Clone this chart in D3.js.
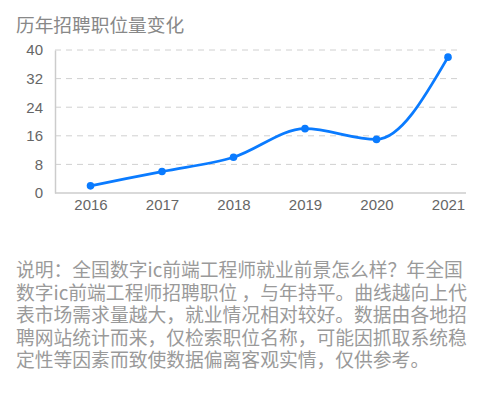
<!DOCTYPE html>
<html>
<head>
<meta charset="utf-8">
<script src="https://cdn.jsdelivr.net/npm/d3@7"></script>
<style>
  body { margin: 0; background: #fff; font-family: "Noto Sans CJK SC", "Noto Sans", sans-serif; }
  #chart { position: relative; width: 482px; height: 393px; }
  #chart svg { position: absolute; left: 0; top: 0; }
  .note { position: absolute; left: 16px; top: 258px; color: #9a9a9a; font-size: 18.8px; }
  .note div { height: 22.5px; line-height: 22.5px; white-space: nowrap; overflow: visible; }
</style>
</head>
<body>
<div id="chart"></div>
<script>
//Datos
const years = ['2016', '2017', '2018', '2019', '2020', '2021'];
const jobs = [2, 6, 10, 18, 15, 38];
const yTicks = [0, 8, 16, 24, 32, 40];
const title = '历年招聘职位量变化';
const noteLines = [
    '说明：全国数字ic前端工程师就业前景怎么样？年全国',
    '数字ic前端工程师招聘职位 ，与年持平。曲线越向上代',
    '表市场需求量越大，就业情况相对较好。数据由各地招',
    '聘网站统计而来，仅检索职位名称，可能因抓取系统稳',
    '定性等因素而致使数据偏离客观实情，仅供参考。'
];

const COLOR_LINE = '#0a7bff',
    COLOR_TEXT = '#666';

let svg = d3.select('#chart')
    .append('svg')
    .attr('width', 482)
    .attr('height', 393);

//Titulo
svg.append('text')
    .attr('x', 16)
    .attr('y', 32)
    .attr('fill', '#888')
    .style('font-size', '18.7px')
    .text(title);

let plotLeft = 55, plotRight = 466, plotTop = 50, plotBottom = 193;

let x = d3.scalePoint()
    .domain(years)
    .range([90.5, 448]);

let y = d3.scaleLinear()
    .domain([0, 40])
    .range([plotBottom, plotTop]);

//Rejilla
svg.append('g')
    .selectAll('line')
    .data(yTicks.filter(d => d > 0))
    .enter()
    .append('line')
    .attr('x1', plotLeft)
    .attr('x2', 461)
    .attr('y1', d => y(d))
    .attr('y2', d => y(d))
    .attr('stroke', '#d0d0d0')
    .attr('stroke-width', 1)
    .attr('stroke-dasharray', '6,5');

//Ejes
let axisFont = 'Arial, "Liberation Sans", sans-serif';
let yAxis = d3.axisLeft(y).tickValues(yTicks).tickSize(0).tickPadding(12);
svg.append('g')
    .attr('transform', 'translate(' + plotLeft + ',0)')
    .call(yAxis)
    .call(g => g.select('.domain').attr('stroke', '#ccc').attr('stroke-width', 1.5))
    .call(g => g.selectAll('text').attr('fill', COLOR_TEXT).style('font-size', '15px').style('font-family', axisFont));

let xAxis = d3.axisBottom(x).tickSize(0).tickPadding(6);
svg.append('g')
    .attr('transform', 'translate(0,' + plotBottom + ')')
    .call(xAxis)
    .call(g => g.select('.domain').attr('d', 'M' + plotLeft + ',0H' + plotRight).attr('stroke', '#ccc').attr('stroke-width', 1.5))
    .call(g => g.selectAll('text').attr('fill', COLOR_TEXT).style('font-size', '15px').style('font-family', axisFont));

//Linea
let line = d3.line()
    .x((d, i) => x(years[i]))
    .y(d => y(d))
    .curve(d3.curveMonotoneX);

svg.append('path')
    .datum(jobs)
    .attr('fill', 'none')
    .attr('stroke', COLOR_LINE)
    .attr('stroke-width', 2.8)
    .attr('d', line);

svg.append('g')
    .selectAll('circle')
    .data(jobs)
    .enter()
    .append('circle')
    .attr('cx', (d, i) => x(years[i]))
    .attr('cy', d => y(d))
    .attr('r', 3.8)
    .attr('fill', COLOR_LINE);

//Nota (texto HTML con interlineado fijo)
d3.select('#chart')
    .append('div')
    .attr('class', 'note')
    .selectAll('div')
    .data(noteLines)
    .enter()
    .append('div')
    .text(d => d);
</script>
</body>
</html>
